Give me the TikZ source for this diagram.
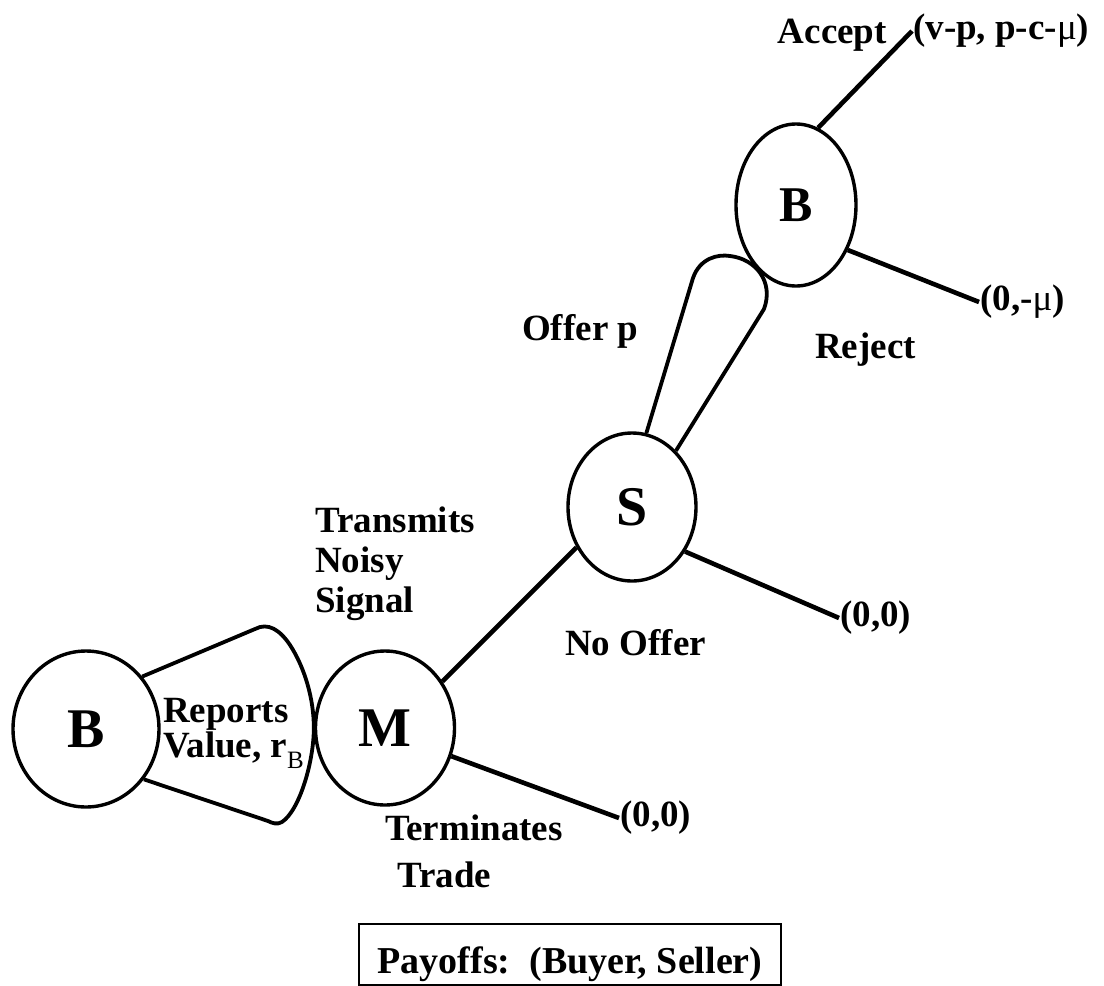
\documentclass[tikz,border=0pt]{standalone}
\usepackage{fontspec}
\setmainfont{Liberation Serif}
\usetikzlibrary{shapes.geometric}

\begin{document}
\begin{tikzpicture}[x=1pt,y=-1pt,
	player/.style={draw,ellipse,line width=3.4pt,inner sep=0pt,font=\fontsize{56}{56}\selectfont\bfseries},
	lbl/.style={inner sep=0pt,align=left,font=\fontsize{37}{40}\selectfont\bfseries},
	payoff/.style={inner sep=1pt,anchor=west,font=\fontsize{37}{40}\selectfont\bfseries},
	branch/.style={line width=4.6pt},
	funnel/.style={line width=3.8pt,line join=round}]
		\useasboundingbox (0,0) rectangle (1104,986);
		% players
		\node[player,minimum width=146pt,minimum height=156pt] (B1) at (86,729) {B};
		\node[player,minimum width=139pt,minimum height=154pt] (M) at (385,728) {M};
		\node[player,minimum width=128pt,minimum height=148pt] (S) at (632,507) {S};
		\node[player,minimum width=120pt,minimum height=162pt,font=\fontsize{50}{50}\selectfont\bfseries] (B2) at (796,205) {B};
		% payoffs
		\node[payoff] (pA) at (912,31) {(v-p, p-c-\textmd{μ})};
		\node[payoff] (pR) at (979,302) {(0,-\textmd{μ})};
		\node[payoff] (pS) at (839,618) {(0,0)};
		\node[payoff] (pM) at (619,818) {(0,0)};
		\draw[branch] (M.-23) -- (pM.west);
		\draw[branch] (M.39) -- (S.216);
		\draw[branch] (S.-40) -- (pS.west);
		\draw[branch] (B2.74) -- (pA.west);
		\draw[branch] (B2.-41) -- (pR.west);
		% information sets
		\draw[funnel] (B1.43) -- (255,629) .. controls (268,622) and (280,630) .. (290,645)
			.. controls (305,668) and (314,700) .. (M.west)
			.. controls (314,760) and (300,810) .. (282,822)
			.. controls (277,825) and (272,823) .. (268,821) -- (B1.-41);
		\draw[funnel] (S.79) -- (693,278) .. controls (700,258) and (718,254) .. (730,256)
			.. controls (756,259) and (774,282) .. (764,309) -- (S.52);
		% moves
		\node[lbl,anchor=base east] (acc) at (887,43) {Accept};
		\node[lbl,anchor=base west] (rej) at (815,358) {Reject};
		\node[lbl,anchor=base west] (off) at (522,340) {Offer p};
		\node[lbl,anchor=base west] (noo) at (565,655) {No Offer};
		\node[lbl,anchor=base west] (trn) at (315,612) {Transmits\\Noisy\\Signal};
		\node[lbl,anchor=base west] (rep) at (163,757) {Reports\\[-5pt]Value, r\raisebox{-11pt}{\fontsize{25}{25}\selectfont\mdseries B}};
		\node[lbl,anchor=base west] (ter) at (385,887) {Terminates\\[7pt]\hspace{12pt}Trade};
		\node[draw,line width=2pt,minimum width=422pt,minimum height=61pt,anchor=north west,
			text height=40pt,text depth=3pt,font=\fontsize{38}{40}\selectfont\bfseries] (pay) at (358,923) {Payoffs:\ \ (Buyer, Seller)};
	\end{tikzpicture}
\end{document}
